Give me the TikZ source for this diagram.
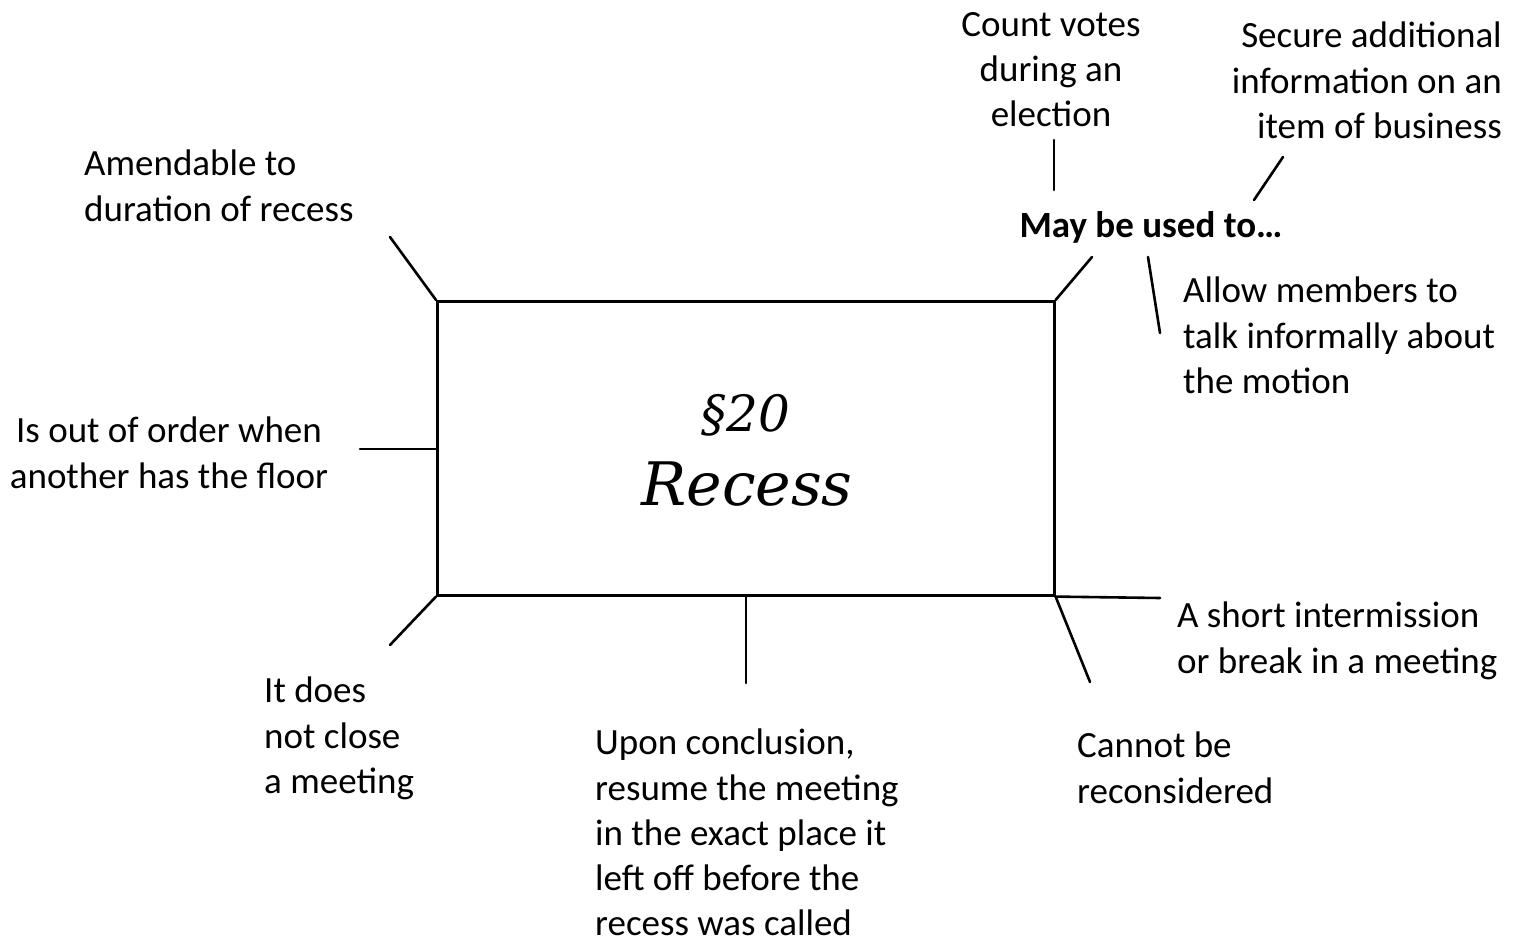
\documentclass[tikz,border=0pt]{standalone}
\usepackage{fontspec}
\newfontfamily\calibri{Carlito}
\newfontfamily\titlefont{DejaVu Serif}
\begin{document}
\begin{tikzpicture}[x=1pt,y=-1pt,
  note/.style={font=\calibri\fontsize{37}{45.2}\selectfont, inner sep=0pt},
  link/.style={line width=2.6pt, line cap=round}]
\useasboundingbox (0,0) rectangle (1518,939);

% central box with the motion's name
\node[draw, line width=2.6pt, minimum width=617pt, minimum height=294pt,
      inner sep=0pt, anchor=north west] (box) at (436,300) {};
\node[font=\titlefont\itshape\fontsize{50}{60}\selectfont, inner sep=0pt,
      anchor=base] (number) at (746,431) {§20};
\node[font=\titlefont\itshape\fontsize{60}{72}\selectfont, inner sep=0pt,
      anchor=base] (title) at (747,505) {Recess};

% surrounding notes
\node[note, align=center, anchor=north] (count) at (1051,12) {Count votes\\during an\\election};
\node[note, align=right, anchor=north east] (secure) at (1502,22) {Secure additional\\information on an\\item of business};
\node[note, anchor=base, font=\calibri\bfseries\fontsize{37}{45.2}\selectfont] (may) at (1151,237) {May be used to…};
\node[note, align=left, anchor=north west] (allow) at (1183,277) {Allow members to\\talk informally about\\the motion};
\node[note, align=left, anchor=north west] (amend) at (84,150) {Amendable to\\duration of recess};
\node[note, align=center, anchor=north] (order) at (169,417) {Is out of order when\\another has the floor};
\node[note, align=left, anchor=north west] (close) at (264,677) {It does\\not close\\a meeting};
\node[note, align=left, anchor=north west] (upon) at (595,729) {Upon conclusion,\\resume the meeting\\in the exact place it\\left off before the\\recess was called};
\node[note, align=left, anchor=north west] (short) at (1177,602) {A short intermission\\or break in a meeting};
\node[note, align=left, anchor=north west] (cannot) at (1077,732) {Cannot be\\reconsidered};

% free ends of the connectors
\coordinate (count-a) at (1054,140);
\coordinate (count-b) at (1054,190);
\coordinate (secure-a) at (1283,157);
\coordinate (secure-b) at (1254,200);
\coordinate (may-a) at (1092,257);
\coordinate (may-b) at (1148,257);
\coordinate (allow-a) at (1160,333);
\coordinate (amend-a) at (390,237);
\coordinate (order-a) at (360,449);
\coordinate (close-a) at (390,645);
\coordinate (upon-a) at (746,597);
\coordinate (upon-b) at (746,683);
\coordinate (short-a) at (1160,598);
\coordinate (cannot-a) at (1090,682);

% connectors
\draw[link] (count-a) -- (count-b);
\draw[link] (secure-a) -- (secure-b);
\draw[link] (may-a) -- (box.north east);
\draw[link] (may-b) -- (allow-a);
\draw[link] (amend-a) -- (box.north west);
\draw[link] (order-a) -- (box.west |- order-a);
\draw[link] (close-a) -- (box.south west);
\draw[link] (upon-a) -- (upon-b);
\draw[link] (box.south east) -- (short-a);
\draw[link] (box.south east) -- (cannot-a);
\end{tikzpicture}
\end{document}
